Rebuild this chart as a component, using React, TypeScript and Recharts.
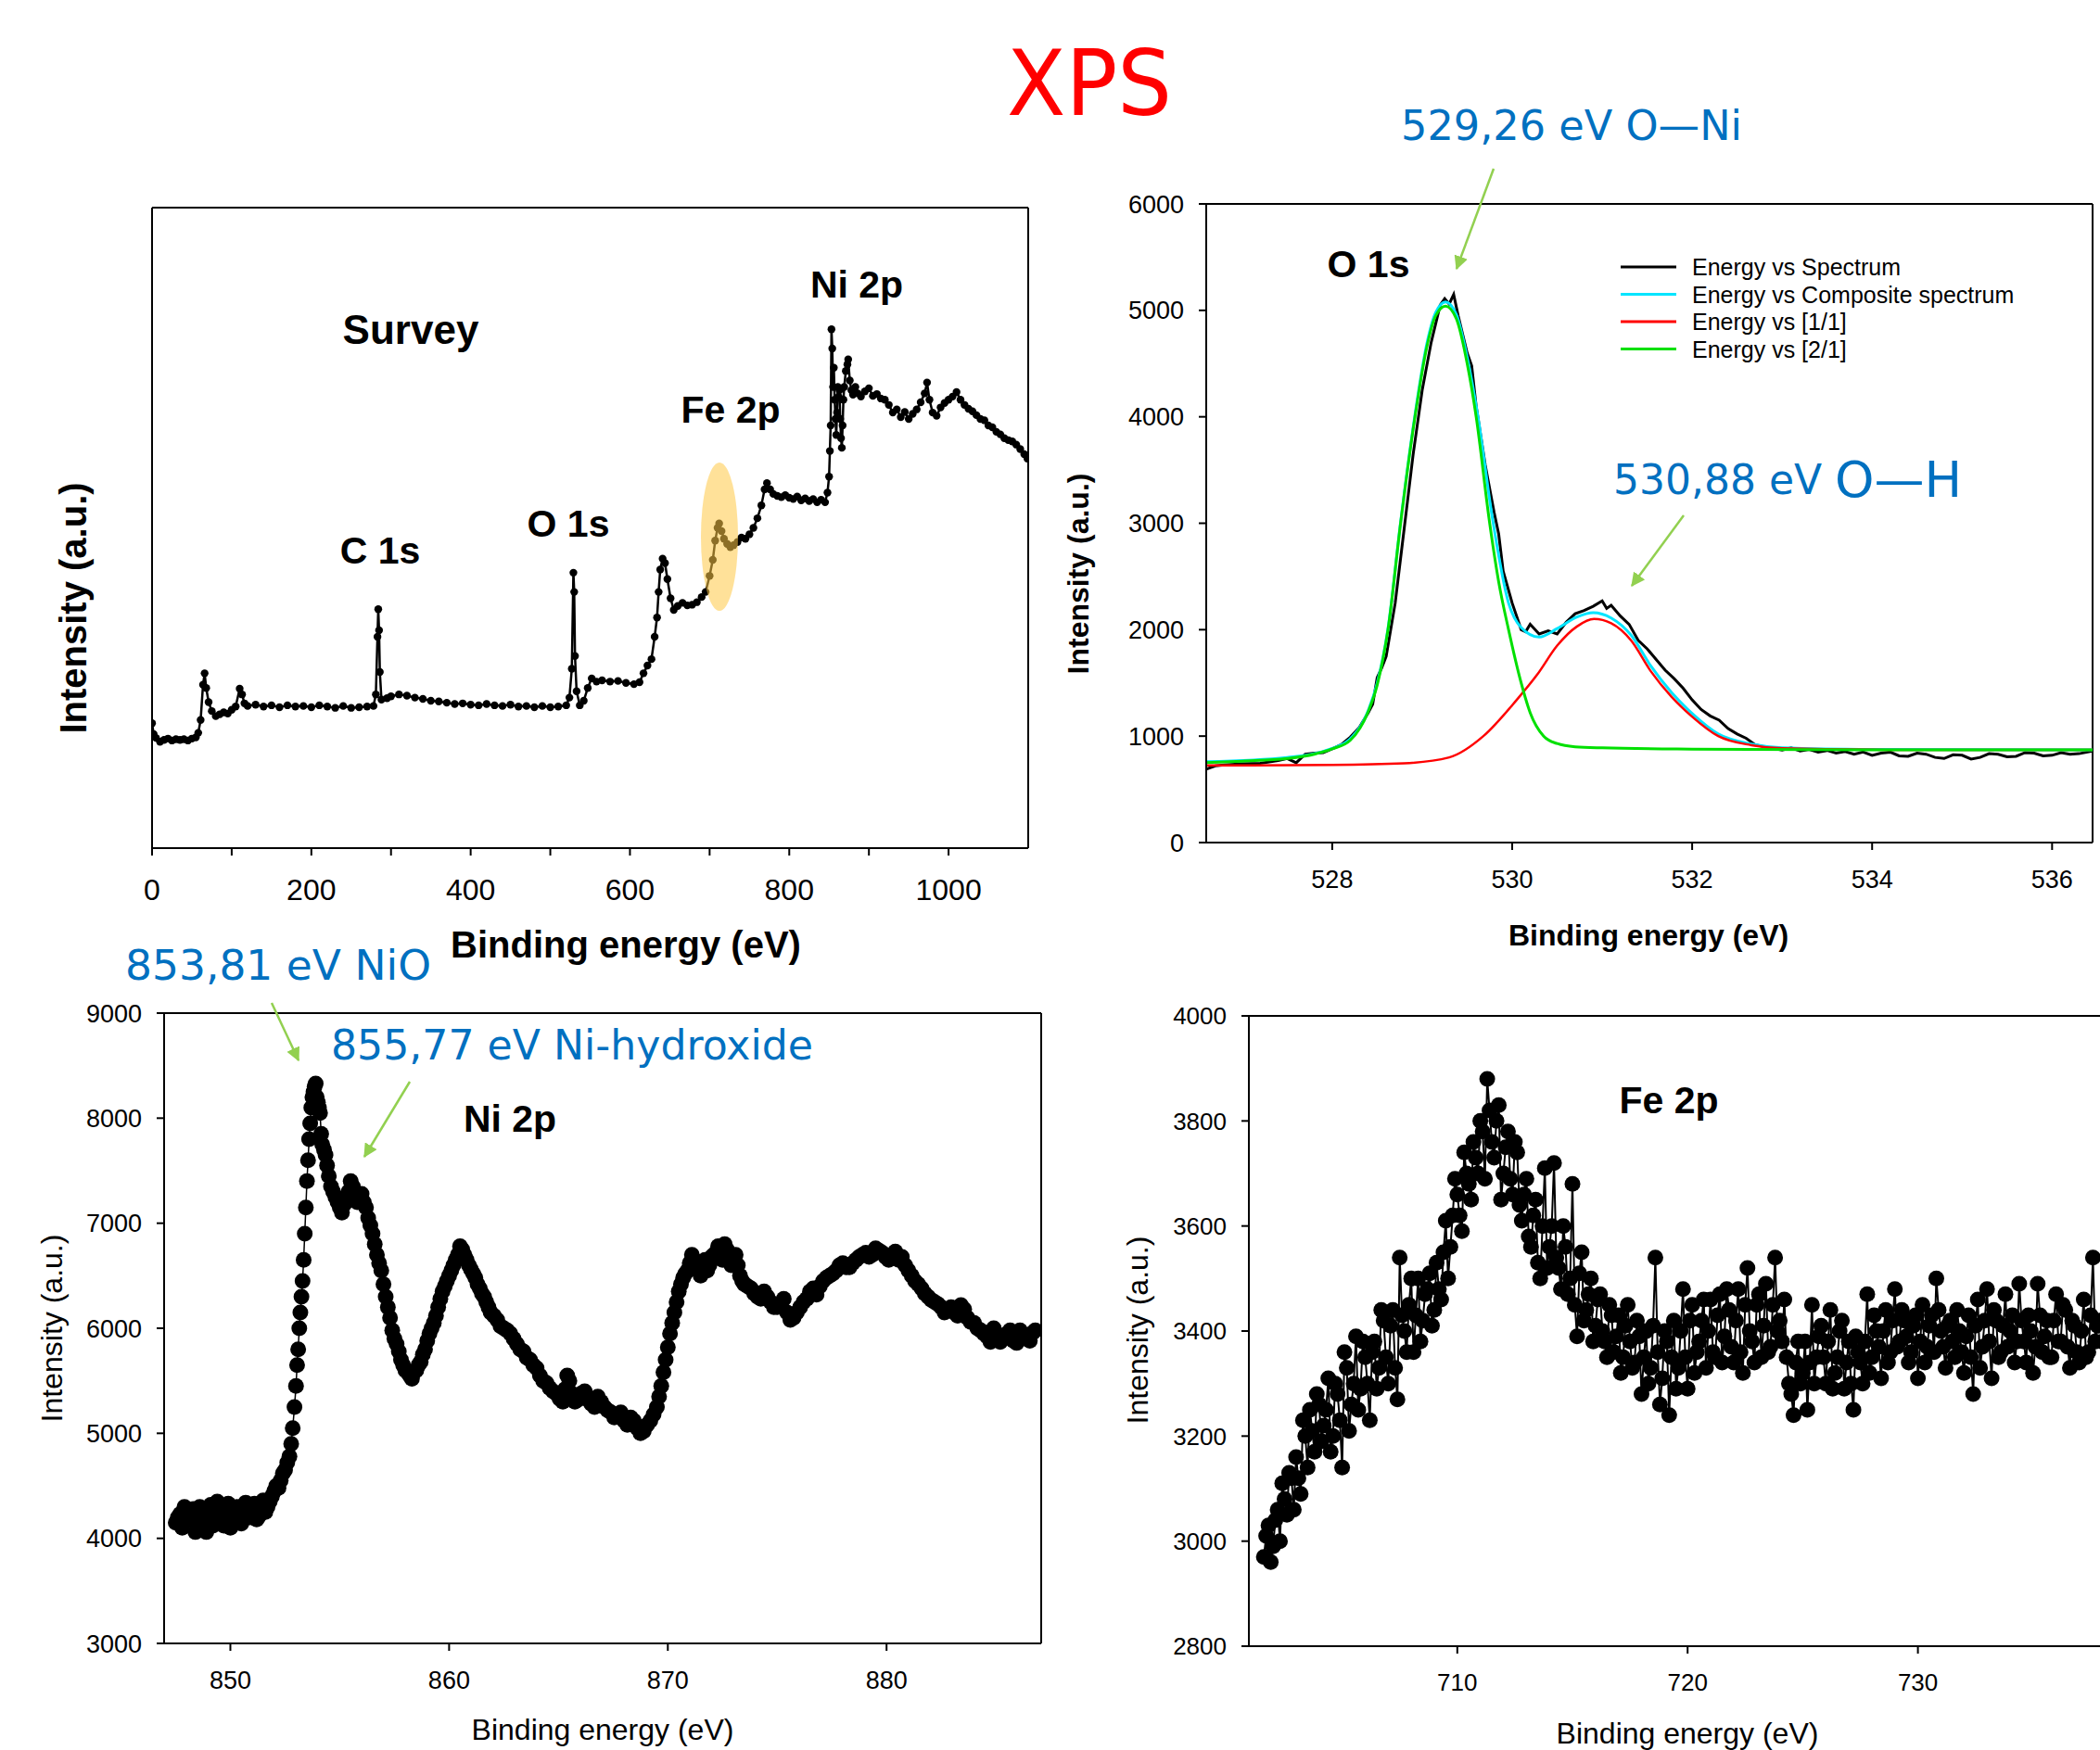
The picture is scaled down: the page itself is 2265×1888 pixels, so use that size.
import React from 'react';
import { LineChart, Line, XAxis, YAxis, ReferenceLine, Legend } from 'recharts';

// survey: [binding energy (eV), intensity as % of the plot height]
const surveyPoints: [number, number][] = [
  [0, 19.5], [2, 17.8], [5, 17.2], [10, 16.6], [15, 16.9], [20, 17.1], [25, 16.8], [30, 17.0], [35, 16.9],
  [40, 17.0], [45, 16.8], [50, 17.1], [55, 17.3], [58, 18.0], [61, 20.0], [64, 25.5], [66, 27.3], [68, 25.0],
  [71, 22.8], [75, 21.4], [80, 20.6], [85, 20.9], [90, 21.2], [95, 21.0], [100, 21.6], [105, 22.1], [110, 24.9],
  [113, 24.0], [116, 22.6], [120, 22.2], [130, 22.4], [140, 22.1], [150, 22.3], [160, 22.0], [170, 22.3],
  [180, 22.1], [190, 22.2], [200, 22.0], [210, 22.3], [220, 22.1], [230, 21.9], [240, 22.2], [250, 21.9],
  [260, 22.0], [270, 22.1], [278, 22.2], [281, 24.0], [283, 33.0], [284, 37.3], [285, 34.0], [286, 27.5],
  [288, 23.2], [295, 23.4], [300, 23.7], [310, 24.0], [320, 23.8], [330, 23.5], [340, 23.3], [350, 23.0],
  [360, 22.9], [370, 22.7], [380, 22.5], [390, 22.6], [400, 22.4], [410, 22.3], [420, 22.5], [430, 22.3],
  [440, 22.2], [450, 22.4], [460, 22.1], [470, 22.2], [480, 22.0], [490, 22.2], [500, 22.0], [510, 22.1],
  [520, 22.3], [524, 23.5], [527, 28.0], [529, 43.0], [530, 40.0], [531, 30.0], [533, 24.5], [537, 22.3],
  [542, 23.0], [547, 25.0], [552, 26.5], [558, 26.0], [565, 26.2], [575, 26.0], [585, 26.1], [595, 25.8],
  [605, 25.6], [612, 25.9], [617, 27.3], [622, 28.5], [627, 29.5], [631, 33.0], [634, 36.0], [636, 40.0],
  [638, 43.5], [641, 45.2], [644, 44.5], [647, 42.0], [651, 39.0], [655, 37.2], [660, 37.8], [666, 38.3],
  [672, 37.9], [678, 38.0], [684, 38.4], [690, 39.2], [695, 40.0], [700, 42.5], [704, 45.0], [707, 48.0],
  [710, 50.0], [712, 50.7], [715, 49.5], [718, 48.3], [722, 47.5], [726, 47.0], [730, 47.3], [735, 47.8],
  [740, 48.5], [745, 48.3], [750, 49.0], [755, 50.0], [760, 51.5], [765, 53.5], [769, 56.0], [772, 57.0],
  [776, 56.0], [780, 55.3], [785, 55.0], [790, 54.8], [795, 55.1], [800, 54.7], [805, 54.5], [810, 54.9],
  [815, 54.3], [820, 54.6], [825, 54.2], [830, 54.5], [835, 54.0], [840, 54.4], [845, 54.0], [848, 55.5],
  [850, 58.0], [851, 62.0], [852, 66.0], [853, 81.0], [854, 78.0], [855, 72.0], [856, 75.0], [857, 70.0],
  [858, 67.0], [859, 64.5], [860, 68.0], [861, 72.0], [862, 70.5], [863, 71.5], [864, 67.0], [865, 64.0],
  [866, 62.5], [867, 66.0], [868, 70.0], [869, 72.0], [871, 74.5], [873, 75.5], [874, 76.3], [876, 73.0],
  [878, 71.5], [880, 70.8], [883, 72.0], [886, 71.0], [890, 70.5], [895, 71.3], [900, 71.8], [905, 70.6],
  [910, 70.9], [915, 70.2], [920, 70.0], [925, 69.2], [930, 68.0], [935, 68.5], [940, 67.3], [945, 68.1],
  [950, 67.0], [955, 67.8], [960, 68.5], [965, 69.6], [970, 71.0], [973, 72.7], [976, 70.0], [980, 68.0],
  [985, 67.5], [990, 68.8], [995, 69.5], [1000, 70.0], [1005, 70.5], [1010, 71.2], [1015, 70.0], [1020, 69.2],
  [1025, 68.6], [1030, 68.2], [1035, 67.6], [1040, 67.0], [1045, 66.8], [1050, 66.0], [1055, 65.7],
  [1060, 65.0], [1065, 64.6], [1070, 64.0], [1075, 63.7], [1080, 63.5], [1085, 63.0], [1090, 62.3],
  [1095, 61.5], [1099, 60.8],
];

// O 1s region
const o1sSpectrum: [number, number][] = [
  [526.6, 690], [526.7, 720], [526.8, 730], [527.0, 740], [527.2, 745], [527.4, 770], [527.5, 790], [527.6, 750],
  [527.7, 830], [527.8, 840], [527.9, 845], [528.0, 880], [528.1, 920], [528.2, 990], [528.3, 1080], [528.4, 1220],
  [528.45, 1300], [528.5, 1550], [528.55, 1640], [528.6, 1750], [528.7, 2250], [528.8, 2950], [528.9, 3650],
  [529.0, 4250], [529.1, 4700], [529.2, 5050], [529.25, 5110], [529.3, 5060], [529.35, 5150], [529.4, 4950],
  [529.5, 4600], [529.55, 4480], [529.6, 4100], [529.7, 3550], [529.8, 3100], [529.85, 2900], [529.9, 2550],
  [530.0, 2250], [530.1, 2000], [530.15, 1980], [530.2, 2050], [530.3, 1960], [530.4, 1990], [530.5, 1960],
  [530.6, 2070], [530.7, 2150], [530.8, 2180], [530.9, 2220], [531.0, 2270], [531.05, 2200], [531.1, 2230],
  [531.2, 2130], [531.3, 2050], [531.4, 1900], [531.5, 1820], [531.6, 1720], [531.7, 1620], [531.8, 1540],
  [531.9, 1450], [532.0, 1340], [532.1, 1250], [532.2, 1190], [532.3, 1150], [532.4, 1070], [532.5, 1020],
  [532.6, 980], [532.7, 920], [532.8, 900], [533.0, 870], [533.1, 890], [533.2, 860], [533.3, 875], [533.4, 850],
  [533.5, 865], [533.6, 840], [533.7, 855], [533.8, 830], [533.9, 850], [534.0, 820], [534.1, 840], [534.2, 850],
  [534.3, 815], [534.4, 810], [534.5, 840], [534.6, 830], [534.7, 800], [534.8, 790], [534.9, 825], [535.0, 820],
  [535.1, 785], [535.2, 800], [535.3, 835], [535.4, 830], [535.5, 805], [535.6, 810], [535.7, 845], [535.8, 840],
  [535.9, 815], [536.0, 820], [536.1, 845], [536.2, 830], [536.3, 835], [536.45, 860],
];
const o1sComposite: [number, number][] = [
  [526.6, 760], [527.5, 800], [528.0, 885], [528.2, 975], [528.4, 1240], [528.5, 1500], [528.62, 2010],
  [528.76, 3010], [528.92, 4020], [529.05, 4680], [529.15, 4980], [529.26, 5080], [529.38, 4960], [529.5, 4560],
  [529.62, 4000], [529.78, 3050], [529.96, 2250], [530.1, 2020], [530.3, 1930], [530.5, 2010], [530.72, 2120],
  [530.9, 2160], [531.1, 2110], [531.32, 1950], [531.54, 1660], [531.77, 1410], [531.99, 1220], [532.29, 1020],
  [532.66, 925], [533.0, 890], [534.0, 875], [536.45, 870],
];
const o1sHydroxide: [number, number][] = [
  [526.6, 725], [528.0, 730], [528.8, 745], [529.3, 800], [529.68, 1000], [530.05, 1340], [530.28, 1580],
  [530.5, 1850], [530.72, 2030], [530.91, 2100], [531.1, 2060], [531.32, 1900], [531.54, 1610], [531.77, 1370],
  [531.99, 1190], [532.29, 1000], [532.66, 915], [533.0, 885], [534.0, 872], [536.45, 870],
];
const o1sOxide: [number, number][] = [
  [526.6, 750], [527.0, 765], [527.5, 790], [527.8, 830], [528.0, 880], [528.2, 960], [528.4, 1230],
  [528.5, 1480], [528.62, 2000], [528.76, 3000], [528.92, 4000], [529.05, 4650], [529.15, 4950], [529.26, 5040],
  [529.38, 4920], [529.5, 4500], [529.6, 4000], [529.75, 3000], [529.85, 2450], [529.96, 2000], [530.1, 1500],
  [530.2, 1220], [530.35, 1000], [530.5, 930], [530.7, 900], [531.0, 890], [532.0, 878], [534.0, 870],
  [536.45, 870],
];
const o1sLegendOrder = ['Energy vs Spectrum', 'Energy vs Composite spectrum', 'Energy vs [1/1]', 'Energy vs [2/1]'];

// Ni 2p region, two interleaved scans of readings
const ni2pPointsA: [number, number][] = [
  [847.5, 4150], [847.7, 4230], [847.9, 4300], [848.1, 4180], [848.3, 4280], [848.5, 4130], [848.7, 4250],
  [848.9, 4060], [849.1, 4320], [849.3, 4180], [849.5, 4260], [849.7, 4120], [849.9, 4330], [850.1, 4180],
  [850.3, 4300], [850.5, 4140], [850.7, 4340], [850.9, 4200], [851.1, 4330], [851.3, 4210], [851.5, 4360],
  [851.7, 4300], [851.9, 4400], [852.1, 4500], [852.3, 4550], [852.5, 4650], [852.7, 4780], [852.85, 5050],
  [853.0, 5450], [853.1, 5800], [853.2, 6150], [853.3, 6450], [853.4, 6900], [853.5, 7400], [853.6, 7800],
  [853.7, 8100], [853.8, 8250], [853.9, 8330], [854.0, 8150], [854.1, 8050], [854.2, 7750], [854.35, 7650],
  [854.5, 7450], [854.7, 7300], [854.9, 7200], [855.1, 7100], [855.3, 7250], [855.5, 7400], [855.7, 7300],
  [855.9, 7250], [856.1, 7200], [856.3, 7050], [856.5, 6900], [856.7, 6700], [856.9, 6550], [857.1, 6300],
  [857.3, 6100], [857.5, 5900], [857.7, 5780], [857.9, 5650], [858.1, 5580], [858.3, 5520], [858.5, 5600],
  [858.7, 5680], [858.9, 5800], [859.1, 5950], [859.3, 6050], [859.5, 6200], [859.7, 6350], [859.9, 6450],
  [860.1, 6550], [860.3, 6650], [860.5, 6780], [860.7, 6700], [860.9, 6600], [861.1, 6520], [861.3, 6420],
  [861.5, 6330], [861.7, 6250], [861.9, 6150], [862.2, 6080], [862.5, 6000], [862.8, 5950], [863.1, 5850],
  [863.4, 5780], [863.7, 5700], [864.0, 5620], [864.3, 5500], [864.6, 5430], [864.9, 5380], [865.2, 5300],
  [865.4, 5550], [865.6, 5380], [865.9, 5320], [866.2, 5400], [866.5, 5280], [866.8, 5350], [867.1, 5250],
  [867.4, 5200], [867.7, 5180], [868.0, 5120], [868.3, 5150], [868.6, 5050], [868.9, 5020], [869.2, 5120],
  [869.5, 5250], [869.7, 5450], [869.9, 5700], [870.1, 5950], [870.3, 6150], [870.5, 6350], [870.7, 6480],
  [870.9, 6550], [871.1, 6700], [871.3, 6600], [871.5, 6500], [871.7, 6650], [871.9, 6600], [872.1, 6700],
  [872.3, 6780], [872.5, 6650], [872.7, 6750], [872.9, 6600], [873.1, 6700], [873.3, 6500], [873.5, 6420],
  [873.8, 6380], [874.1, 6300], [874.4, 6350], [874.7, 6250], [875.0, 6200], [875.3, 6280], [875.6, 6080],
  [875.9, 6150], [876.2, 6250], [876.5, 6350], [876.8, 6320], [877.1, 6450], [877.4, 6500], [877.7, 6550],
  [878.0, 6620], [878.3, 6580], [878.6, 6650], [878.9, 6700], [879.2, 6680], [879.5, 6760], [879.8, 6720],
  [880.1, 6650], [880.4, 6730], [880.7, 6680], [881.0, 6550], [881.3, 6450], [881.6, 6380], [881.9, 6300],
  [882.2, 6250], [882.5, 6200], [882.8, 6180], [883.1, 6150], [883.4, 6220], [883.7, 6100], [884.0, 6050],
  [884.3, 5980], [884.6, 5920], [884.9, 6000], [885.2, 5870], [885.5, 5950], [885.8, 5880], [886.1, 5980],
  [886.4, 5900], [886.7, 5960],
];
const ni2pPointsB: [number, number][] = [
  [847.6, 4200], [847.8, 4100], [848.0, 4260], [848.2, 4220], [848.4, 4060], [848.6, 4300], [848.8, 4180],
  [849.0, 4240], [849.2, 4120], [849.4, 4350], [849.6, 4200], [849.8, 4250], [850.0, 4100], [850.2, 4280],
  [850.4, 4220], [850.6, 4180], [850.8, 4280], [851.0, 4250], [851.2, 4180], [851.4, 4300], [851.6, 4250],
  [851.8, 4350], [852.0, 4450], [852.2, 4480], [852.4, 4620], [852.6, 4720], [852.78, 4900], [852.93, 5250],
  [853.05, 5650], [853.15, 6000], [853.25, 6300], [853.35, 6650], [853.45, 7150], [853.55, 7600], [853.65, 7950],
  [853.75, 8200], [853.85, 8300], [853.95, 8200], [854.05, 8100], [854.15, 7850], [854.28, 7700], [854.42, 7550],
  [854.6, 7350], [854.8, 7250], [855.0, 7150], [855.2, 7180], [855.4, 7300], [855.6, 7350], [855.8, 7200],
  [856.0, 7280], [856.2, 7150], [856.4, 6980], [856.6, 6800], [856.8, 6620], [857.0, 6420], [857.2, 6200],
  [857.4, 5980], [857.6, 5850], [857.8, 5700], [858.0, 5600], [858.2, 5550], [858.4, 5580], [858.6, 5650],
  [858.8, 5750], [859.0, 5880], [859.2, 6000], [859.4, 6120], [859.6, 6280], [859.8, 6400], [860.0, 6500],
  [860.2, 6600], [860.4, 6700], [860.6, 6750], [860.8, 6650], [861.0, 6560], [861.2, 6480], [861.4, 6380],
  [861.6, 6300], [861.8, 6200], [862.05, 6120], [862.35, 6020], [862.65, 5980], [862.95, 5900], [863.25, 5800],
  [863.55, 5720], [863.85, 5650], [864.15, 5550], [864.45, 5480], [864.75, 5400], [865.05, 5330], [865.3, 5420],
  [865.5, 5500], [865.75, 5300], [866.05, 5380], [866.35, 5320], [866.65, 5250], [866.95, 5300], [867.25, 5220],
  [867.55, 5150], [867.85, 5200], [868.15, 5080], [868.45, 5120], [868.75, 5000], [869.05, 5080], [869.35, 5180],
  [869.6, 5350], [869.8, 5580], [870.0, 5820], [870.2, 6050], [870.4, 6250], [870.6, 6420], [870.8, 6520],
  [871.0, 6620], [871.2, 6650], [871.4, 6550], [871.6, 6620], [871.8, 6550], [872.0, 6680], [872.2, 6720],
  [872.4, 6700], [872.6, 6800], [872.8, 6680], [873.0, 6650], [873.2, 6600], [873.4, 6450], [873.65, 6400],
  [873.95, 6330], [874.25, 6280], [874.55, 6300], [874.85, 6200], [875.15, 6230], [875.45, 6150], [875.75, 6100],
  [876.05, 6200], [876.35, 6280], [876.65, 6380], [876.95, 6400], [877.25, 6480], [877.55, 6520], [877.85, 6600],
  [878.15, 6580], [878.45, 6620], [878.75, 6680], [879.05, 6720], [879.35, 6700], [879.65, 6740], [879.95, 6680],
  [880.25, 6700], [880.55, 6650], [880.85, 6600], [881.15, 6500], [881.45, 6420], [881.75, 6330], [882.05, 6270],
  [882.35, 6230], [882.65, 6150], [882.95, 6200], [883.25, 6120], [883.55, 6180], [883.85, 6060], [884.15, 6000],
  [884.45, 5950], [884.75, 5870], [885.05, 5940], [885.35, 5900], [885.65, 5980], [885.95, 5860], [886.25, 5940],
  [886.55, 5880], [886.8, 5980],
];

// Fe 2p region, two interleaved scans of readings
const fe2pPointsA: [number, number][] = [
  [701.6, 2970], [701.8, 3030], [702.0, 2990], [702.2, 3060], [702.4, 3110], [702.6, 3050], [702.8, 3120],
  [703.0, 3160], [703.2, 3090], [703.4, 3200], [703.6, 3250], [703.8, 3170], [704.0, 3260], [704.2, 3220],
  [704.4, 3310], [704.6, 3200], [704.8, 3280], [705.0, 3140], [705.2, 3330], [705.4, 3260], [705.6, 3390],
  [705.8, 3290], [706.0, 3350], [706.2, 3230], [706.4, 3380], [706.6, 3330], [706.8, 3420], [707.0, 3300],
  [707.2, 3440], [707.4, 3270], [707.5, 3540], [707.7, 3400], [707.9, 3450], [708.1, 3360], [708.3, 3500],
  [708.5, 3420], [708.7, 3480], [708.9, 3410], [709.1, 3530], [709.3, 3460], [709.5, 3610], [709.7, 3560],
  [709.9, 3690], [710.1, 3620], [710.3, 3740], [710.5, 3680], [710.7, 3760], [710.9, 3700], [711.1, 3780],
  [711.3, 3880], [711.4, 3820], [711.6, 3730], [711.8, 3830], [712.0, 3700], [712.2, 3780], [712.4, 3660],
  [712.6, 3740], [712.8, 3610], [713.0, 3690], [713.2, 3560], [713.4, 3650], [713.6, 3500], [713.8, 3710],
  [714.0, 3560], [714.2, 3720], [714.4, 3520], [714.6, 3600], [714.8, 3470], [715.0, 3680], [715.2, 3390],
  [715.4, 3550], [715.6, 3440], [715.8, 3500], [716.0, 3410], [716.2, 3470], [716.4, 3380], [716.6, 3450],
  [716.8, 3360], [717.0, 3430], [717.2, 3350], [717.4, 3450], [717.6, 3330], [717.8, 3420], [718.0, 3280],
  [718.2, 3400], [718.4, 3330], [718.6, 3540], [718.8, 3260], [719.0, 3400], [719.2, 3240], [719.4, 3420],
  [719.6, 3330], [719.8, 3480], [720.0, 3290], [720.2, 3450], [720.4, 3360], [720.6, 3420], [720.8, 3330],
  [721.0, 3460], [721.2, 3350], [721.4, 3470], [721.6, 3390], [721.8, 3440], [722.0, 3340], [722.2, 3480],
  [722.4, 3320], [722.6, 3520], [722.8, 3380], [723.0, 3450], [723.2, 3350], [723.4, 3490], [723.6, 3370],
  [723.8, 3540], [724.0, 3420], [724.2, 3460], [724.4, 3300], [724.6, 3240], [724.8, 3380], [725.0, 3320],
  [725.2, 3250], [725.4, 3450], [725.6, 3350], [725.8, 3410], [726.0, 3300], [726.2, 3440], [726.4, 3320],
  [726.6, 3400], [726.8, 3290], [727.0, 3380], [727.2, 3250], [727.4, 3360], [727.6, 3300], [727.8, 3470],
  [728.0, 3350], [728.2, 3400], [728.4, 3310], [728.6, 3440], [728.8, 3360], [729.0, 3480], [729.2, 3380],
  [729.4, 3420], [729.6, 3340], [729.8, 3410], [730.0, 3310], [730.2, 3450], [730.4, 3370], [730.6, 3430],
  [730.8, 3500], [731.0, 3400], [731.2, 3330], [731.4, 3420], [731.6, 3350], [731.8, 3400], [732.0, 3320],
  [732.2, 3430], [732.4, 3280], [732.6, 3460], [732.8, 3370], [733.0, 3480], [733.2, 3310], [733.4, 3420],
  [733.6, 3360], [733.8, 3470], [734.0, 3400], [734.2, 3340], [734.4, 3490], [734.6, 3380], [734.8, 3430],
  [735.0, 3320], [735.2, 3490], [735.4, 3360], [735.6, 3420], [735.8, 3350], [736.0, 3470], [736.2, 3380],
  [736.4, 3440], [736.6, 3330], [736.8, 3410], [737.0, 3340], [737.2, 3460], [737.4, 3360], [737.6, 3540],
  [737.8, 3410], [738.0, 3380],
];
const fe2pPointsB: [number, number][] = [
  [701.7, 3010], [701.9, 2960], [702.1, 3040], [702.3, 3000], [702.5, 3080], [702.7, 3130], [702.9, 3060],
  [703.1, 3120], [703.3, 3230], [703.5, 3140], [703.7, 3210], [703.9, 3280], [704.1, 3190], [704.3, 3250],
  [704.5, 3170], [704.7, 3300], [704.9, 3230], [705.1, 3360], [705.3, 3210], [705.5, 3300], [705.7, 3250],
  [705.9, 3380], [706.1, 3300], [706.3, 3360], [706.5, 3290], [706.7, 3440], [706.9, 3350], [707.1, 3410],
  [707.3, 3330], [707.6, 3430], [707.8, 3360], [708.0, 3500], [708.2, 3430], [708.4, 3380], [708.6, 3470],
  [708.8, 3510], [709.0, 3440], [709.2, 3480], [709.4, 3550], [709.6, 3500], [709.8, 3620], [710.0, 3660],
  [710.2, 3590], [710.4, 3700], [710.6, 3650], [710.8, 3730], [711.0, 3800], [711.2, 3690], [711.5, 3760],
  [711.7, 3800], [711.9, 3650], [712.1, 3750], [712.3, 3690], [712.5, 3760], [712.7, 3640], [712.9, 3660],
  [713.1, 3580], [713.3, 3620], [713.5, 3530], [713.7, 3600], [713.9, 3520], [714.1, 3600], [714.3, 3540],
  [714.5, 3480], [714.7, 3560], [714.9, 3500], [715.1, 3450], [715.3, 3510], [715.5, 3420], [715.7, 3470],
  [715.9, 3380], [716.1, 3460], [716.3, 3400], [716.5, 3350], [716.7, 3430], [716.9, 3390], [717.1, 3320],
  [717.3, 3410], [717.5, 3380], [717.7, 3340], [717.9, 3390], [718.1, 3350], [718.3, 3300], [718.5, 3410],
  [718.7, 3360], [718.9, 3310], [719.1, 3380], [719.3, 3350], [719.5, 3290], [719.7, 3400], [719.9, 3350],
  [720.1, 3420], [720.3, 3320], [720.5, 3380], [720.7, 3460], [720.9, 3400], [721.1, 3360], [721.3, 3430],
  [721.5, 3340], [721.7, 3480], [721.9, 3370], [722.1, 3420], [722.3, 3360], [722.5, 3450], [722.7, 3400],
  [722.9, 3340], [723.1, 3470], [723.3, 3410], [723.5, 3360], [723.7, 3450], [723.9, 3400], [724.1, 3380],
  [724.3, 3350], [724.5, 3280], [724.7, 3340], [724.9, 3300], [725.1, 3380], [725.3, 3340], [725.5, 3300],
  [725.7, 3390], [725.9, 3350], [726.1, 3380], [726.3, 3290], [726.5, 3350], [726.7, 3420], [726.9, 3340],
  [727.1, 3300], [727.3, 3390], [727.5, 3340], [727.7, 3380], [727.9, 3320], [728.1, 3430], [728.3, 3370],
  [728.5, 3400], [728.7, 3340], [728.9, 3420], [729.1, 3370], [729.3, 3440], [729.5, 3390], [729.7, 3360],
  [729.9, 3430], [730.1, 3380], [730.3, 3340], [730.5, 3410], [730.7, 3360], [730.9, 3440], [731.1, 3370],
  [731.3, 3410], [731.5, 3380], [731.7, 3440], [731.9, 3360], [732.1, 3390], [732.3, 3350], [732.5, 3410],
  [732.7, 3330], [732.9, 3420], [733.1, 3380], [733.3, 3440], [733.5, 3350], [733.7, 3410], [733.9, 3370],
  [734.1, 3430], [734.3, 3380], [734.5, 3420], [734.7, 3340], [734.9, 3400], [735.1, 3370], [735.3, 3430],
  [735.5, 3390], [735.7, 3350], [735.9, 3420], [736.1, 3380], [736.3, 3450], [736.5, 3370], [736.7, 3420],
  [736.9, 3360], [737.1, 3400], [737.3, 3350], [737.5, 3430], [737.7, 3380], [737.9, 3420],
];

const surveyTicks = [0, 100, 200, 300, 400, 500, 600, 700, 800, 900, 1000];
const o1sXTicks = [528, 530, 532, 534, 536];
const o1sYTicks = [0, 1000, 2000, 3000, 4000, 5000, 6000];
const ni2pXTicks = [850, 860, 870, 880];
const ni2pYTicks = [3000, 4000, 5000, 6000, 7000, 8000, 9000];
const fe2pXTicks = [710, 720, 730];
const fe2pYTicks = [2800, 3000, 3200, 3400, 3600, 3800, 4000];

const FONT = '"Liberation Sans", Arial, sans-serif';
const GOTHIC = '"DejaVu Sans", sans-serif';
const BLUE = '#0070C0';
const ARROW = '#92D050';

const rows = (...sets: [number, number][][]) =>
  sets.flat().sort((a, b) => a[0] - b[0]).map(([e, v]) => ({ e, v }));

type Box = { left: number; top: number; right: number; bottom: number };
const SURVEY: Box = { left: 164, top: 224, right: 1109, bottom: 915 };
const O1S: Box = { left: 1301, top: 220, right: 2257, bottom: 909 };
const NI2P: Box = { left: 177, top: 1093, right: 1123, bottom: 1773 };
const FE2P: Box = { left: 1347, top: 1096, right: 2317, bottom: 1776 };

const PL = 110, PB = 70, PT = 20, PR = 20;
const size = (b: Box) => ({
  width: b.right - b.left + PL + PR,
  height: b.bottom - b.top + PT + PB,
  margin: { top: PT, right: PR, bottom: 0, left: 0 },
});
const pos = (b: Box): React.CSSProperties => ({ position: 'absolute', left: b.left - PL, top: b.top - PT });

const line = { stroke: '#000', strokeWidth: 2 };

const O1sLegend = (props: any) => {
  const items = [...(props.payload || [])].sort(
    (a: any, b: any) => o1sLegendOrder.indexOf(a.value) - o1sLegendOrder.indexOf(b.value),
  );
  return (
    <svg width={480} height={124}>
      {items.map((p: any, i: number) => (
        <g key={i} transform={`translate(0, ${14 + i * 29.5})`}>
          <line x1={0} x2={60} y1={0} y2={0} stroke={p.color} strokeWidth={3} />
          <text x={77} y={0} dominantBaseline="central" fontSize={25} fontFamily={FONT} fill="#000">
            {p.value}
          </text>
        </g>
      ))}
    </svg>
  );
};

export default function App() {
  return (
    <div style={{ position: 'absolute', left: 0, top: 0, width: 2265, height: 1888, overflow: 'hidden', background: '#fff' }}>
      {/* Survey */}
      <div style={pos(SURVEY)}>
        <LineChart {...size(SURVEY)}>
          <XAxis type="number" dataKey="e" domain={[0, 1100]} ticks={surveyTicks} interval={0} allowDataOverflow
            height={PB} tickSize={8} tickMargin={25} axisLine={line} tickLine={line}
            tickFormatter={(v: number) => (v % 200 === 0 ? String(v) : '')}
            tick={{ fill: '#000', fontSize: 32, fontFamily: FONT }} />
          <YAxis type="number" domain={[0, 100]} allowDataOverflow width={PL} tick={false} axisLine={line} />
          <ReferenceLine y={100} stroke="#000" strokeWidth={2} />
          <ReferenceLine x={1100} stroke="#000" strokeWidth={2} />
          <Line data={rows(surveyPoints)} dataKey="v" type="linear" stroke="#000" strokeWidth={2.5}
            dot={{ r: 4.2, fill: '#000', stroke: '#000', strokeWidth: 0 }} isAnimationActive={false} />
        </LineChart>
      </div>

      {/* O 1s */}
      <div style={pos(O1S)}>
        <LineChart {...size(O1S)}>
          <XAxis type="number" dataKey="e" domain={[526.6, 536.45]} ticks={o1sXTicks} interval={0} allowDataOverflow
            height={PB} tickSize={8} tickMargin={22} axisLine={line} tickLine={line}
            tick={{ fill: '#000', fontSize: 27, fontFamily: FONT }} />
          <YAxis type="number" domain={[0, 6000]} ticks={o1sYTicks} interval={0} allowDataOverflow width={PL}
            tickSize={8} tickMargin={16} axisLine={line} tickLine={line}
            tick={{ fill: '#000', fontSize: 27, fontFamily: FONT }} />
          <ReferenceLine y={6000} stroke="#000" strokeWidth={2} />
          <ReferenceLine x={536.45} stroke="#000" strokeWidth={2} />
          <Line name="Energy vs Spectrum" data={rows(o1sSpectrum)} dataKey="v" type="linear" stroke="#000"
            strokeWidth={3} dot={false} isAnimationActive={false} />
          <Line name="Energy vs Composite spectrum" data={rows(o1sComposite)} dataKey="v" type="monotone"
            stroke="#00E5FF" strokeWidth={3} dot={false} isAnimationActive={false} />
          <Line name="Energy vs [1/1]" data={rows(o1sHydroxide)} dataKey="v" type="monotone" stroke="#FF0000"
            strokeWidth={2.5} dot={false} isAnimationActive={false} />
          <Line name="Energy vs [2/1]" data={rows(o1sOxide)} dataKey="v" type="monotone" stroke="#00E000"
            strokeWidth={3} dot={false} isAnimationActive={false} />
          <Legend layout="vertical" align="center" verticalAlign="middle" content={O1sLegend}
            wrapperStyle={{ left: 1748 - (O1S.left - PL), top: 274 - (O1S.top - PT), width: 480, height: 124 }} />
        </LineChart>
      </div>

      {/* Ni 2p */}
      <div style={pos(NI2P)}>
        <LineChart {...size(NI2P)}>
          <XAxis type="number" dataKey="e" domain={[846.97, 887.07]} ticks={ni2pXTicks} interval={0} allowDataOverflow
            height={PB} tickSize={8} tickMargin={22} axisLine={line} tickLine={line}
            tick={{ fill: '#000', fontSize: 27, fontFamily: FONT }} />
          <YAxis type="number" domain={[3000, 9000]} ticks={ni2pYTicks} interval={0} allowDataOverflow width={PL}
            tickSize={8} tickMargin={16} axisLine={line} tickLine={line}
            tick={{ fill: '#000', fontSize: 27, fontFamily: FONT }} />
          <ReferenceLine y={9000} stroke="#000" strokeWidth={2} />
          <ReferenceLine x={887.07} stroke="#000" strokeWidth={2} />
          <Line data={rows(ni2pPointsA, ni2pPointsB)} dataKey="v" type="linear" stroke="#000" strokeWidth={1.5}
            dot={{ r: 8.5, fill: '#000', stroke: '#000', strokeWidth: 0 }} isAnimationActive={false} />
        </LineChart>
      </div>

      {/* Fe 2p */}
      <div style={pos(FE2P)}>
        <LineChart {...size(FE2P)}>
          <XAxis type="number" dataKey="e" domain={[700.95, 740]} ticks={fe2pXTicks} interval={0} allowDataOverflow
            height={PB} tickSize={8} tickMargin={22} axisLine={line} tickLine={line}
            tick={{ fill: '#000', fontSize: 26, fontFamily: FONT }} />
          <YAxis type="number" domain={[2800, 4000]} ticks={fe2pYTicks} interval={0} allowDataOverflow width={PL}
            tickSize={8} tickMargin={16} axisLine={line} tickLine={line}
            tick={{ fill: '#000', fontSize: 26, fontFamily: FONT }} />
          <ReferenceLine y={4000} stroke="#000" strokeWidth={2} />
          <Line data={rows(fe2pPointsA, fe2pPointsB)} dataKey="v" type="linear" stroke="#000" strokeWidth={2}
            dot={{ r: 8.5, fill: '#000', stroke: '#000', strokeWidth: 0 }} isAnimationActive={false} />
        </LineChart>
      </div>

      {/* titles, labels and arrows */}
      <svg width={2265} height={1888} style={{ position: 'absolute', left: 0, top: 0, pointerEvents: 'none' }}>
        <defs>
          <marker id="head" markerWidth="6" markerHeight="6" refX="5.5" refY="3" orient="auto" markerUnits="strokeWidth">
            <path d="M0,0 L6,3 L0,6 z" fill={ARROW} />
          </marker>
        </defs>

        <text x={1175} y={90} textAnchor="middle" dominantBaseline="central" fontSize={98} fontFamily={GOTHIC}
          fill="#FF0000" textLength={178} lengthAdjust="spacingAndGlyphs">XPS</text>

        <ellipse cx={776} cy={579} rx={20} ry={80} fill="#FFC845" fillOpacity={0.55} />

        {/* axis titles */}
        <text x={675} y={1019} textAnchor="middle" dominantBaseline="central" fontSize={40} fontWeight="bold" fontFamily={FONT}>Binding energy (eV)</text>
        <text transform="translate(79,656) rotate(-90)" textAnchor="middle" dominantBaseline="central" fontSize={40} fontWeight="bold" fontFamily={FONT}>Intensity (a.u.)</text>
        <text x={1778} y={1009} textAnchor="middle" dominantBaseline="central" fontSize={32} fontWeight="bold" fontFamily={FONT}>Binding energy (eV)</text>
        <text transform="translate(1163,619) rotate(-90)" textAnchor="middle" dominantBaseline="central" fontSize={32} fontWeight="bold" fontFamily={FONT}>Intensity (a.u.)</text>
        <text x={650} y={1866} textAnchor="middle" dominantBaseline="central" fontSize={32} fontFamily={FONT}>Binding energy (eV)</text>
        <text transform="translate(56,1433) rotate(-90)" textAnchor="middle" dominantBaseline="central" fontSize={32} fontFamily={FONT}>Intensity (a.u.)</text>
        <text x={1820} y={1870} textAnchor="middle" dominantBaseline="central" fontSize={32} fontFamily={FONT}>Binding energy (eV)</text>
        <text transform="translate(1227,1435) rotate(-90)" textAnchor="middle" dominantBaseline="central" fontSize={32} fontFamily={FONT}>Intensity (a.u.)</text>

        {/* peak labels */}
        <g fontWeight="bold" fontFamily={FONT} fill="#000" textAnchor="middle" dominantBaseline="central">
          <text x={443} y={355} fontSize={44}>Survey</text>
          <text x={410} y={594} fontSize={41}>C 1s</text>
          <text x={613} y={565} fontSize={41}>O 1s</text>
          <text x={788} y={442} fontSize={41}>Fe 2p</text>
          <text x={924} y={307} fontSize={41}>Ni 2p</text>
          <text x={1476} y={285} fontSize={41}>O 1s</text>
          <text x={550} y={1207} fontSize={41}>Ni 2p</text>
          <text x={1800} y={1187} fontSize={41}>Fe 2p</text>
        </g>

        {/* binding energy annotations */}
        <g fontFamily={GOTHIC} fill={BLUE} dominantBaseline="central">
          <text x={1511} y={135} fontSize={45} textLength={368} lengthAdjust="spacingAndGlyphs">529,26 eV O—Ni</text>
          <text x={1740} y={517} fontSize={44}>530,88 eV <tspan fontSize={54}>O—H</tspan></text>
          <text x={135} y={1041} fontSize={45} textLength={330} lengthAdjust="spacingAndGlyphs">853,81 eV NiO</text>
          <text x={357} y={1127} fontSize={44} textLength={520} lengthAdjust="spacingAndGlyphs">855,77 eV Ni-hydroxide</text>
        </g>

        <g stroke={ARROW} strokeWidth={2.5} markerEnd="url(#head)">
          <line x1={1611} y1={182} x2={1571} y2={290} />
          <line x1={1816} y1={556} x2={1760} y2={632} />
          <line x1={293} y1={1082} x2={322} y2={1144} />
          <line x1={442} y1={1167} x2={393} y2={1248} />
        </g>
      </svg>
    </div>
  );
}
